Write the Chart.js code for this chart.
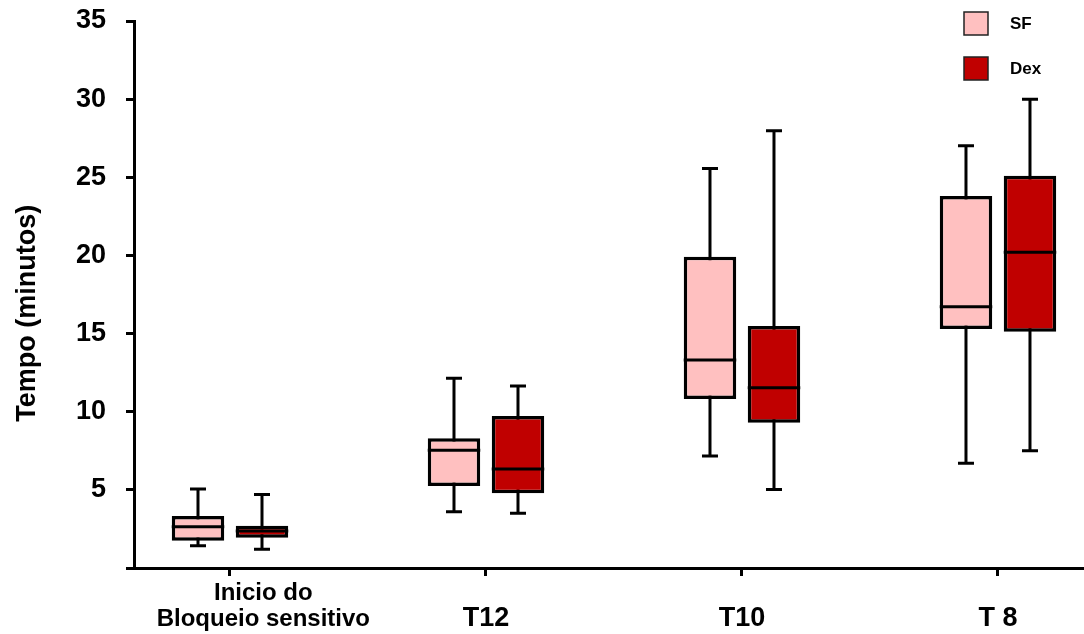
<!DOCTYPE html>
<html>
<head>
<meta charset="utf-8">
<script src="https://cdn.jsdelivr.net/npm/chart.js@4.4.1/dist/chart.umd.min.js"></script>
<style>
  html, body { margin: 0; background: #fff; }
  #wrap { width: 1084px; height: 634px; }
</style>
</head>
<body>
<div id="wrap"><canvas id="boxChart"></canvas></div>
<script>
// categories on the x axis
const categories = [['Inicio do', 'Bloqueio sensitivo'], 'T12', 'T10', 'T 8'];
const seriesNames = ['SF', 'Dex'];

// SF (soro fisiologico)
const sfMin    = [1.43, 3.6, 7.17, 6.7];
const sfQ1     = [1.75, 5.25, 10.81, 15.29];
const sfMedian = [2.64, 7.53, 13.31, 16.72];
const sfQ3     = [3.33, 8.3, 19.92, 23.8];
const sfMax    = [5.05, 12.14, 25.57, 27.02];

// Dex
const dexMin    = [1.2, 3.5, 5.03, 7.5];
const dexQ1     = [1.94, 4.78, 9.3, 15.12];
const dexMedian = [2.37, 6.33, 11.54, 20.2];
const dexQ3     = [2.71, 9.72, 15.48, 25.1];
const dexMax    = [4.71, 11.64, 27.98, 30.0];

const yTicks = [0, 5, 10, 15, 20, 25, 30, 35];

const FONT = "'Liberation Sans', Arial, Helvetica, sans-serif";

function boxData(q1, q3) {
  return categories.map((c, i) => ({ x: i, y: [q1[i], q3[i]] }));
}

// whiskers behind the boxes, medians on top
const whiskerPlugin = {
  id: 'whiskers',
  beforeDatasetsDraw(chart) {
    const { ctx } = chart;
    const y = chart.scales.y;
    ctx.save();
    ctx.strokeStyle = '#000';
    ctx.lineWidth = 3;
    chart.data.datasets.forEach((ds, di) => {
      chart.getDatasetMeta(di).data.forEach((bar, i) => {
        const top = y.getPixelForValue(ds.whiskerMax[i]);
        const bot = y.getPixelForValue(ds.whiskerMin[i]);
        const cap = 8;
        ctx.beginPath();
        ctx.moveTo(bar.x, top); ctx.lineTo(bar.x, bot);
        ctx.moveTo(bar.x - cap, top); ctx.lineTo(bar.x + cap, top);
        ctx.moveTo(bar.x - cap, bot); ctx.lineTo(bar.x + cap, bot);
        ctx.stroke();
      });
    });
    ctx.restore();
  },
  afterDatasetsDraw(chart) {
    const { ctx } = chart;
    const y = chart.scales.y;
    ctx.save();
    ctx.strokeStyle = '#000';
    ctx.lineWidth = 3;
    chart.data.datasets.forEach((ds, di) => {
      chart.getDatasetMeta(di).data.forEach((bar, i) => {
        const m = y.getPixelForValue(ds.median[i]);
        ctx.beginPath();
        ctx.moveTo(bar.x - bar.width / 2, m);
        ctx.lineTo(bar.x + bar.width / 2, m);
        ctx.stroke();
      });
    });
    ctx.restore();
  }
};

// small stacked legend in the top right corner
const legendPlugin = {
  id: 'cornerLegend',
  afterDraw(chart) {
    const { ctx, chartArea } = chart;
    ctx.save();
    chart.data.datasets.forEach((ds, i) => {
      const x = chartArea.right - 120;
      const y = 12 + i * 45;
      ctx.fillStyle = ds.backgroundColor;
      ctx.fillRect(x, y, 24, 23);
      ctx.strokeStyle = '#222';
      ctx.lineWidth = 1.5;
      ctx.strokeRect(x, y, 24, 23);
      ctx.fillStyle = '#000';
      ctx.font = 'bold 17px ' + FONT;
      ctx.textBaseline = 'middle';
      ctx.textAlign = 'left';
      ctx.fillText(ds.label, x + 46, y + 12);
    });
    ctx.restore();
  }
};

new Chart(document.getElementById('boxChart'), {
  type: 'bar',
  data: {
    datasets: [{
      label: seriesNames[0],
      data: boxData(sfQ1, sfQ3),
      whiskerMin: sfMin, whiskerMax: sfMax, median: sfMedian,
      backgroundColor: '#FFC0C0',
      borderColor: '#000',
      borderWidth: 3.5,
      borderSkipped: false
    }, {
      label: seriesNames[1],
      data: boxData(dexQ1, dexQ3),
      whiskerMin: dexMin, whiskerMax: dexMax, median: dexMedian,
      backgroundColor: '#C00000',
      borderColor: '#000',
      borderWidth: 3.5,
      borderSkipped: false
    }]
  },
  options: {
    responsive: true,
    maintainAspectRatio: false,
    animation: false,
    categoryPercentage: 0.5,
    barPercentage: 0.82,
    layout: { padding: { top: 21, right: 0, left: 0, bottom: 0 } },
    plugins: {
      legend: { display: false },
      tooltip: { enabled: false }
    },
    scales: {
      x: {
        type: 'linear',
        offset: false,
        min: -0.375,
        max: 3.336,
        afterBuildTicks: (scale) => { scale.ticks = categories.map((c, i) => ({ value: i })); },
        afterFit: (scale) => { scale.height = 66; },
        grid: { offset: false, drawOnChartArea: false, tickLength: 8, tickWidth: 3, tickColor: '#000' },
        border: { color: '#000', width: 3 },
        ticks: {
          color: '#000',
          padding: 4,
          autoSkip: false,
          maxRotation: 0,
          font: (ctx) => ({ family: FONT, weight: 'bold', size: ctx.index === 0 ? 24 : 27, lineHeight: '26px' }),
          callback: (v) => {
            const c = categories[v];
            if (Array.isArray(c)) return c.map(s => ' '.repeat(10) + s);
            return ['', c];
          }
        }
      },
      y: {
        min: 0,
        max: 35,
        afterBuildTicks: (scale) => { scale.ticks = yTicks.map(v => ({ value: v })); },
        afterFit: (scale) => {
          scale.width = 134;
          scale.paddingTop = 0;
          scale.paddingBottom = 0;
        },
        grid: { drawOnChartArea: false, tickLength: 8, tickWidth: 3, tickColor: '#000' },
        border: { color: '#000', width: 3 },
        ticks: {
          color: '#000',
          padding: 20,
          font: { family: FONT, weight: 'bold', size: 27 },
          callback: (v) => v === 0 ? '' : v
        },
        title: {
          display: true,
          text: 'Tempo (minutos)     ',
          color: '#000',
          font: { family: FONT, weight: 'bold', size: 27 },
          padding: { top: 11, bottom: 0 }
        }
      }
    }
  },
  plugins: [whiskerPlugin, legendPlugin]
});
</script>
</body>
</html>
